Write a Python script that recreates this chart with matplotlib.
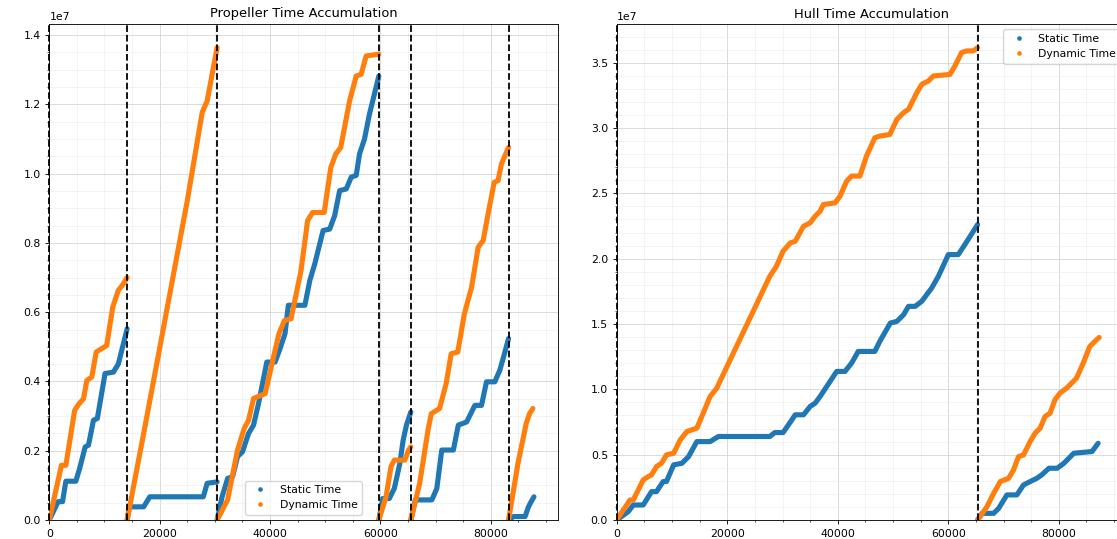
import matplotlib
matplotlib.use("Agg")
import matplotlib.pyplot as plt
from matplotlib.lines import Line2D

# ---------------- data (x in thousands of samples, y in millions) ----------------
prop_resets = [0, 14.1, 30.4, 59.7, 65.5, 83.2]
hull_resets = [0, 65.3]

prop_static_x = [
    [0, 1.6, 2.4, 3.0, 4.8, 5.5, 6.5, 7.1, 8.0, 8.7, 10.1, 11.6, 12.5, 14.1],
    [14.1, 14.5, 17.1, 18.2, 27.9, 28.6, 30.4],
    [30.4, 31.3, 32.3, 33.2, 34.1, 35.0, 36.1, 37.0, 37.9, 39.4, 40.9, 41.8, 42.7, 43.3, 46.3,
     47.2, 48.1, 49.6, 50.8, 51.7, 52.6, 53.8, 54.7, 55.6, 56.2, 57.1, 58.0, 59.7],
    [59.7, 60.4, 61.6, 62.5, 63.5, 64.1, 64.7, 65.5],
    [65.5, 66.3, 69.3, 70.2, 71.1, 73.2, 74.1, 75.6, 76.5, 77.1, 78.3, 79.2, 80.7, 81.6, 82.3, 83.2],
    [83.2, 84.1, 86.2, 86.8, 87.3, 87.8],
]
prop_static_y = [
    [0, 0.53, 0.53, 1.12, 1.12, 1.49, 2.11, 2.16, 2.88, 2.93, 4.23, 4.27, 4.5, 5.52],
    [0, 0.38, 0.38, 0.67, 0.67, 1.06, 1.1],
    [0, 0.67, 1.2, 1.25, 1.83, 1.97, 2.5, 2.74, 3.36, 4.56, 4.56, 4.95, 5.38, 6.2, 6.2,
     6.92, 7.4, 8.36, 8.4, 8.79, 9.51, 9.56, 9.9, 9.95, 10.57, 11.0, 11.72, 12.82],
    [0, 0.62, 0.62, 0.91, 1.63, 2.3, 2.74, 3.12],
    [0, 0.58, 0.58, 0.91, 2.02, 2.02, 2.74, 2.83, 3.12, 3.31, 3.31, 3.99, 3.99, 4.32, 4.71, 5.24],
    [0, 0.1, 0.1, 0.38, 0.53, 0.67],
]
prop_dyn_x = [
    [0, 2.2, 3.0, 4.6, 5.4, 6.2, 6.8, 7.7, 8.5, 9.5, 10.4, 11.5, 12.5, 13.2, 14.1],
    [14.1, 17.1, 25.0, 27.7, 28.6, 30.4],
    [30.4, 32.3, 34.1, 35.3, 36.1, 37.0, 39.1, 41.6, 42.6, 43.8, 45.6, 46.8, 47.7, 49.8, 51.0,
     51.9, 52.8, 54.4, 55.6, 56.5, 57.4, 59.7],
    [59.7, 61.0, 61.9, 62.5, 64.4, 65.1, 65.5],
    [65.5, 67.1, 68.6, 69.2, 70.7, 71.9, 72.8, 74.0, 75.2, 76.5, 77.7, 78.6, 79.6, 80.6, 81.3, 81.9, 83.2],
    [83.2, 84.9, 86.4, 87.0, 87.6],
]
prop_dyn_y = [
    [0, 1.58, 1.58, 3.17, 3.36, 3.5, 4.03, 4.13, 4.85, 4.95, 5.04, 6.15, 6.63, 6.77, 7.0],
    [0, 2.5, 9.22, 11.77, 12.1, 13.64],
    [0, 0.58, 2.02, 2.64, 2.88, 3.51, 3.65, 5.38, 5.76, 5.81, 7.2, 8.65, 8.88, 8.88, 10.18,
     10.57, 10.76, 12.1, 12.82, 12.87, 13.4, 13.45],
    [0, 0.67, 1.54, 1.73, 1.73, 2.02, 2.11],
    [0, 1.06, 2.59, 3.07, 3.22, 3.94, 4.8, 4.85, 5.96, 6.72, 7.88, 8.07, 8.93, 9.75, 9.8, 10.28, 10.76],
    [0, 1.63, 2.79, 3.07, 3.22],
]

hull_static_x = [
    [0, 2.1, 3.0, 4.8, 6.3, 7.2, 8.4, 9.0, 10.3, 11.8, 13.0, 14.5, 16.9, 18.4, 27.7, 28.6, 30.1,
     31.7, 32.3, 33.8, 35.0, 35.9, 36.8, 39.8, 41.3, 42.5, 43.7, 46.7, 47.6, 49.5, 50.7, 51.9,
     52.8, 54.0, 55.2, 56.1, 57.0, 58.2, 60.0, 61.8, 63.0, 65.3],
    [65.3, 66.1, 68.2, 69.1, 70.6, 72.4, 73.6, 74.8, 76.0, 76.9, 78.2, 79.7, 80.9, 82.7, 86.0, 87.1],
]
hull_static_y = [
    [0, 0.64, 1.15, 1.15, 2.17, 2.17, 2.94, 2.94, 4.22, 4.34, 4.85, 6.0, 6.0, 6.39, 6.39, 6.69, 6.69,
     7.67, 8.05, 8.05, 8.69, 8.94, 9.45, 11.37, 11.37, 12.01, 12.9, 12.9, 13.67, 15.07, 15.2, 15.71,
     16.35, 16.35, 16.74, 17.25, 17.76, 18.65, 20.31, 20.31, 21.08, 22.61],
    [0, 0.51, 0.51, 0.89, 1.92, 1.92, 2.68, 2.94, 3.19, 3.45, 3.96, 3.96, 4.34, 5.11, 5.24, 5.87],
]
hull_dyn_x = [
    [0, 2.4, 3.0, 4.8, 5.7, 6.3, 7.2, 8.1, 9.0, 10.3, 11.5, 12.7, 13.6, 14.5, 15.4, 16.9, 18.1,
     27.7, 28.9, 30.1, 31.4, 32.3, 33.8, 35.0, 35.9, 36.8, 37.4, 39.5, 40.4, 41.6, 42.5, 44.0,
     45.2, 46.7, 47.6, 49.4, 50.7, 51.9, 52.8, 54.3, 55.2, 56.4, 57.3, 60.3, 61.2, 62.4, 63.3,
     64.5, 65.3],
    [65.3, 67.0, 68.2, 69.4, 70.9, 71.8, 72.7, 73.6, 74.8, 75.7, 76.6, 77.5, 78.4, 79.3, 80.2,
     81.4, 82.3, 83.2, 84.4, 85.6, 86.5, 87.3],
]
hull_dyn_y = [
    [0, 1.53, 1.53, 3.07, 3.32, 3.45, 4.09, 4.34, 4.98, 5.11, 6.13, 6.77, 6.9, 7.03, 7.92, 9.45, 10.09,
     18.65, 19.42, 20.57, 21.2, 21.33, 22.48, 22.74, 23.25, 23.63, 24.14, 24.27, 24.78, 25.93, 26.32,
     26.32, 27.85, 29.25, 29.38, 29.5, 30.66, 31.17, 31.43, 32.7, 33.34, 33.6, 33.98, 34.1, 34.75,
     35.77, 35.9, 35.9, 36.15],
    [0, 1.02, 2.04, 2.94, 3.19, 3.83, 4.85, 4.98, 6.0, 6.64, 7.02, 7.92, 8.17, 9.2, 9.71, 10.09,
     10.47, 10.86, 12.0, 13.28, 13.66, 13.97],
]

titles = ["Propeller Time Accumulation", "Hull Time Accumulation"]
series_labels = ["Static Time", "Dynamic Time"]

# ---------------- styling ----------------
S = 0.78
plt.rcParams.update({
    "font.family": "DejaVu Sans",
    "font.size": 10 * S,
    "axes.linewidth": 0.8 * S,
    "xtick.major.width": 0.8 * S, "ytick.major.width": 0.8 * S,
    "xtick.minor.width": 0.6 * S, "ytick.minor.width": 0.6 * S,
    "xtick.major.size": 3.5 * S, "ytick.major.size": 3.5 * S,
    "xtick.minor.size": 2.0 * S, "ytick.minor.size": 2.0 * S,
})
C_STATIC = "#1f77b4"
C_DYN = "#ff7f0e"

fig = plt.figure(figsize=(11.17, 5.39), dpi=100)
W, H = 1117.0, 539.0
ax1 = fig.add_axes([49.3 / W, 19 / H, (92.1 * 5.52) / W, 496 / H])
ax2 = fig.add_axes([616.7 / W, 19 / H, (92.1 * 5.527) / W, 496 / H])


def draw(ax, sx, sy, dx, dy, resets, title, legend_loc):
    for xs, ys in zip(sx, sy):
        ax.plot([v * 1e3 for v in xs], [v * 1e6 for v in ys], color=C_STATIC, lw=3.7,
                solid_capstyle="round", solid_joinstyle="round", zorder=2)
    for xs, ys in zip(dx, dy):
        ax.plot([v * 1e3 for v in xs], [v * 1e6 for v in ys], color=C_DYN, lw=3.7,
                solid_capstyle="round", solid_joinstyle="round", zorder=3)
    for r in resets:
        ax.axvline(r * 1e3, color="black", ls="--", lw=1.3, zorder=4, clip_on=False)
    ymax = max(max(max(v) for v in sy), max(max(v) for v in dy)) * 1e6
    ax.set_xlim(0, 92100)
    ax.set_ylim(0, ymax * 1.05)
    ax.minorticks_on()
    ax.grid(which="major", color="#d6d6d6", lw=0.8 * S, zorder=0)
    ax.grid(which="minor", color="#eeeeee", lw=0.6 * S, zorder=0)
    ax.set_axisbelow(True)
    ax.set_title(title, fontsize=12 * S, pad=6 * S)
    handles = [Line2D([], [], ls="none", marker=".", color=C_STATIC, markersize=6 * S),
               Line2D([], [], ls="none", marker=".", color=C_DYN, markersize=6 * S)]
    ax.legend(handles, series_labels, loc=legend_loc, fontsize=10 * S)


draw(ax1, prop_static_x, prop_static_y, prop_dyn_x, prop_dyn_y, prop_resets, titles[0], "lower center")
draw(ax2, hull_static_x, hull_static_y, hull_dyn_x, hull_dyn_y, hull_resets, titles[1], "upper right")

fig.savefig("out.png", dpi=100)
